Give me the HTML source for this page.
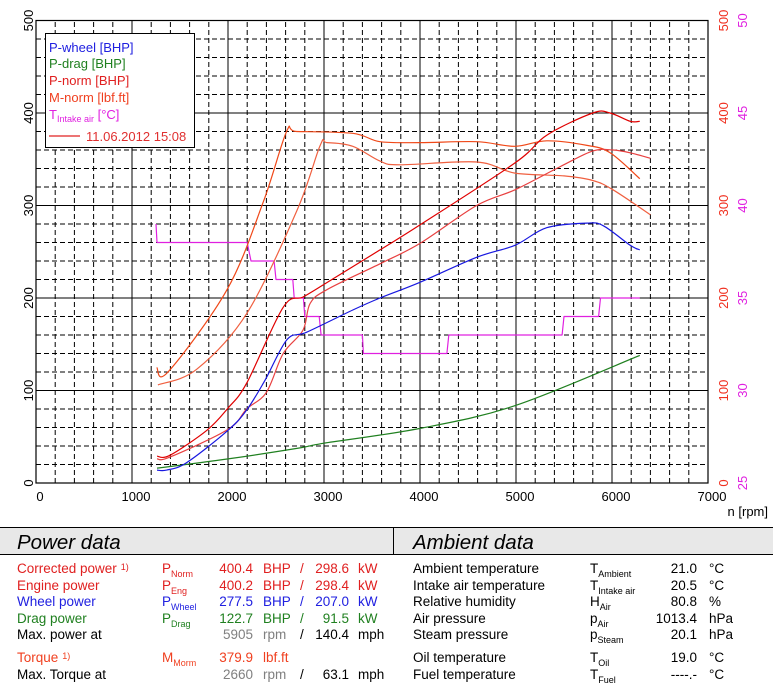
<!DOCTYPE html>
<html><head><meta charset="utf-8">
<style>
body{margin:0;background:#fff;width:773px;height:689px;overflow:hidden;font-family:"Liberation Sans",Arial,sans-serif;}
svg text{font-family:"Liberation Sans",Arial,sans-serif;}
</style></head>
<body>
<svg id="chart" width="773" height="689" viewBox="0 0 773 689" xmlns="http://www.w3.org/2000/svg">
<g id="grid"></g>
<g id="series"></g>
<g id="axes"></g>
<g>
<rect x="45.5" y="33.5" width="149" height="114" fill="#fff" stroke="#000" stroke-width="1"/>
<text x="49" y="52" font-size="13" fill="#2020e0">P-wheel [BHP]</text>
<text x="49" y="68" font-size="13" fill="#208020">P-drag [BHP]</text>
<text x="49" y="85" font-size="13" fill="#e02020">P-norm [BHP]</text>
<text x="49" y="102" font-size="13" fill="#f04020">M-norm [lbf.ft]</text>
<text x="49" y="119" font-size="13" fill="#e020e0">T<tspan font-size="9" dy="3">Intake air</tspan><tspan dy="-3"> [°C]</tspan></text>
<line x1="49" y1="136" x2="80" y2="136" stroke="#e02020" stroke-width="1.2"/>
<text x="86" y="141" font-size="13" fill="#e03030">11.06.2012 15:08</text>
</g>
<g font-size="13.5">
<rect x="0" y="528" width="773" height="26" fill="#e8e8e8"/>
<line x1="0" y1="527.5" x2="773" y2="527.5" stroke="#000"/>
<line x1="0" y1="554.5" x2="773" y2="554.5" stroke="#000"/>
<line x1="393.5" y1="528" x2="393.5" y2="554" stroke="#000"/>
<text x="17" y="549" font-size="20.5" font-style="italic" fill="#000">Power data</text>
<text x="413" y="549" font-size="20.5" font-style="italic" fill="#000">Ambient data</text>
<g id="ptable"></g>
<g id="atable"></g>
</g>
</svg>
<script>
// ---- data ----
const rpmWheel=[1260,1360,1570,2000,2195,2385,2615,2820,3300,3583,4000,4590,4990,5320,5740,5910,6190,6290];
const valWheel=[14,14,22,57,79,111,155,163,187,200,217,244,257,276,281,278,257,252];
const rpmDrag=[1260,2000,2750,3000,4000,5000,6290];
const valDrag=[16,26,38,43,59,84,138];
const rpmNorm=[1260,1395,1780,2000,2195,2575,2780,2990,3583,4000,4990,5320,5800,5980,6190,6290];
const valNorm=[29,30,57,81,108,190,201,214,252,279,346,376,400,400,391,391];
const rpmEng=[1260,1395,2000,2195,2400,2575,2780,2855,3030,3583,4000,4590,4990,5460,5800,6010,6190,6400];
const valEng=[26,28,58,80,98,140,165,194,209,237,259,300,317,342,359,360,357,351];
const rpmTq1=[1257,1375,1990,2365,2610,2715,3300,3583,4000,4590,4990,5320,5740,5980,6290];
const valTq1=[125,120,209,303,380,380,378,369,368,369,364,370,365,357,329];
const rpmTq2=[1270,1675,2200,2720,2960,3030,3300,3583,3790,4590,4990,5500,5800,6010,6400];
const valTq2=[106,123,184,295,365,368,364,348,344,347,335,332,327,317,290];
const rpmTemp=[1250,1260,2200,2240,2480,2500,2675,2690,2785,2800,2950,2970,3400,3410,4280,4300,5480,5500,5860,5880,6290];
const valTemp=[39,38,38,37,37,36,36,35,35,34,34,33,33,32,32,33,33,34,34,35,35];
const xTicks=[0,1000,2000,3000,4000,5000,6000,7000];
const yTicks=[0,100,200,300,400,500];
const tTicks=[25,30,35,40,45,50];

const NS="http://www.w3.org/2000/svg";
const X=r=>36+r*0.096;
const Y=v=>483-v*0.925;
const YT=t=>Y((t-25)*20);
function mk(tag,attrs,parent){const e=document.createElementNS(NS,tag);for(const k in attrs)e.setAttribute(k,attrs[k]);parent.appendChild(e);return e;}

const grid=document.getElementById('grid');
for(let r=0;r<=7000;r+=200){
  const solid=r%1000===0;
  const l=mk('line',{x1:X(r),x2:X(r),y1:Y(0),y2:Y(500),stroke:'#000','stroke-width':1},grid);
  if(!solid)l.setAttribute('stroke-dasharray','5,3');
  
  
}
for(let v=0;v<=500;v+=20){
  const solid=v%100===0;
  const l=mk('line',{x1:X(0),x2:X(7000),y1:Y(v),y2:Y(v),stroke:'#000','stroke-width':1},grid);
  if(!solid)l.setAttribute('stroke-dasharray','5,3');
  
  
}
const fr=mk('rect',{x:X(0),y:Y(500),width:X(7000)-X(0),height:Y(0)-Y(500),fill:'none',stroke:'#000','stroke-width':1.2},grid);



const ser=document.getElementById('series');
function smoothPath(P){
  let d='M'+P[0][0].toFixed(1)+','+P[0][1].toFixed(1);
  for(let i=0;i<P.length-1;i++){
    const p0=P[Math.max(0,i-1)],p1=P[i],p2=P[i+1],p3=P[Math.min(P.length-1,i+2)];
    const c1=[p1[0]+(p2[0]-p0[0])/6,p1[1]+(p2[1]-p0[1])/6];
    const c2=[p2[0]-(p3[0]-p1[0])/6,p2[1]-(p3[1]-p1[1])/6];
    d+=' C'+c1.map(n=>n.toFixed(1)).join(',')+' '+c2.map(n=>n.toFixed(1)).join(',')+' '+p2[0].toFixed(1)+','+p2[1].toFixed(1);
  }
  return d;
}
function line(rs,vs,color,name,yf,smooth){
  const P=rs.map((r,i)=>[X(r),yf(vs[i])]);
  const d=smooth?smoothPath(P):'M'+P.map(p=>p[0].toFixed(1)+','+p[1].toFixed(1)).join(' L');
  const p=mk('path',{d:d,fill:'none',stroke:color,'stroke-width':1.2,'stroke-linejoin':'round'},ser);
  
  
}
line(rpmDrag,valDrag,'#208020','p-drag-line',Y,true);
line(rpmTemp,valTemp,'#e020e0','t-intake-line',YT,false);
line(rpmTq2,valTq2,'#f06040','m-norm-line-2',Y,true);
line(rpmTq1,valTq1,'#f04818','m-norm-line',Y,true);
line(rpmEng,valEng,'#e84040','p-eng-line',Y,true);
line(rpmNorm,valNorm,'#e00000','p-norm-line',Y,true);
line(rpmWheel,valWheel,'#1818e0','p-wheel-line',Y,true);

const ax=document.getElementById('axes');
xTicks.forEach(r=>{
  const t=mk('text',{x:X(r)+4,y:501,'font-size':13,'text-anchor':'middle',fill:'#000'},ax);
  t.textContent=r;
  
  
});
const xt=mk('text',{x:768,y:516,'font-size':13,'text-anchor':'end',fill:'#000'},ax);
xt.textContent='n [rpm]';


yTicks.forEach(v=>{
  const t=mk('text',{x:0,y:0,'font-size':13,'text-anchor':'middle',fill:'#000',transform:`translate(33,${Y(v)}) rotate(-90)`},ax);
  t.textContent=v;
  
  
  const t2=mk('text',{x:0,y:0,'font-size':13,'text-anchor':'middle',fill:'#f03020',transform:`translate(728,${Y(v)}) rotate(-90)`},ax);
  t2.textContent=v;
  
  
});
tTicks.forEach(tv=>{
  const t=mk('text',{x:0,y:0,'font-size':13,'text-anchor':'middle',fill:'#e020e0',transform:`translate(747,${YT(tv)}) rotate(-90)`},ax);
  t.textContent=tv;
  
  
});

// tables
const pt=document.getElementById('ptable');
const prow=[
 {y:573,c:'#e02020',l:'Corrected power',sup:'1)',s:'P',sub:'Norm',v:'400.4',u:'BHP',v2:'298.6',u2:'kW'},
 {y:590,c:'#e02020',l:'Engine power',s:'P',sub:'Eng',v:'400.2',u:'BHP',v2:'298.4',u2:'kW'},
 {y:606,c:'#2020e0',l:'Wheel power',s:'P',sub:'Wheel',v:'277.5',u:'BHP',v2:'207.0',u2:'kW'},
 {y:623,c:'#208020',l:'Drag power',s:'P',sub:'Drag',v:'122.7',u:'BHP',v2:'91.5',u2:'kW'},
 {y:639,c:'#000',l:'Max. power at',v:'5905',u:'rpm',v2:'140.4',u2:'mph',gray:true},
 {y:662,c:'#f04020',l:'Torque',sup:'1)',s:'M',sub:'Morm',v:'379.9',u:'lbf.ft'},
 {y:679,c:'#000',l:'Max. Torque at',v:'2660',u:'rpm',v2:'63.1',u2:'mph',gray:true}
];
prow.forEach(r=>{
  const g=mk('g',{},pt);
  
  
  const t=mk('text',{x:17,y:r.y,fill:r.c},g);t.textContent=r.l;
  if(r.sup){const s=mk('tspan',{'font-size':9,dx:4,dy:-3},t);s.textContent=r.sup;}
  if(r.s){const s=mk('text',{x:162,y:r.y,fill:r.c},g);s.textContent=r.s;const sb=mk('tspan',{'font-size':9,dy:4},s);sb.textContent=r.sub;}
  const vc=r.gray?'#808080':r.c;
  const v=mk('text',{x:253,y:r.y,fill:vc,'text-anchor':'end'},g);v.textContent=r.v;
  const u=mk('text',{x:263,y:r.y,fill:vc},g);u.textContent=r.u;
  if(r.v2){
    const sl=mk('text',{x:300,y:r.y,fill:r.c},g);sl.textContent='/';
    const v2=mk('text',{x:349,y:r.y,fill:r.c,'text-anchor':'end'},g);v2.textContent=r.v2;
    const u2=mk('text',{x:358,y:r.y,fill:r.c},g);u2.textContent=r.u2;
  }
});
const at=document.getElementById('atable');
const arow=[
 {y:573,l:'Ambient temperature',s:'T',sub:'Ambient',v:'21.0',u:'°C'},
 {y:590,l:'Intake air temperature',s:'T',sub:'Intake air',v:'20.5',u:'°C'},
 {y:606,l:'Relative humidity',s:'H',sub:'Air',v:'80.8',u:'%'},
 {y:623,l:'Air pressure',s:'p',sub:'Air',v:'1013.4',u:'hPa'},
 {y:639,l:'Steam pressure',s:'p',sub:'Steam',v:'20.1',u:'hPa'},
 {y:662,l:'Oil temperature',s:'T',sub:'Oil',v:'19.0',u:'°C'},
 {y:679,l:'Fuel temperature',s:'T',sub:'Fuel',v:'----.-',u:'°C'}
];
arow.forEach(r=>{
  const g=mk('g',{fill:'#000'},at);
  
  
  const t=mk('text',{x:413,y:r.y},g);t.textContent=r.l;
  const s=mk('text',{x:590,y:r.y},g);s.textContent=r.s;const sb=mk('tspan',{'font-size':9,dy:4},s);sb.textContent=r.sub;
  const v=mk('text',{x:697,y:r.y,'text-anchor':'end'},g);v.textContent=r.v;
  const u=mk('text',{x:709,y:r.y},g);u.textContent=r.u;
});
</script>
</body></html>
